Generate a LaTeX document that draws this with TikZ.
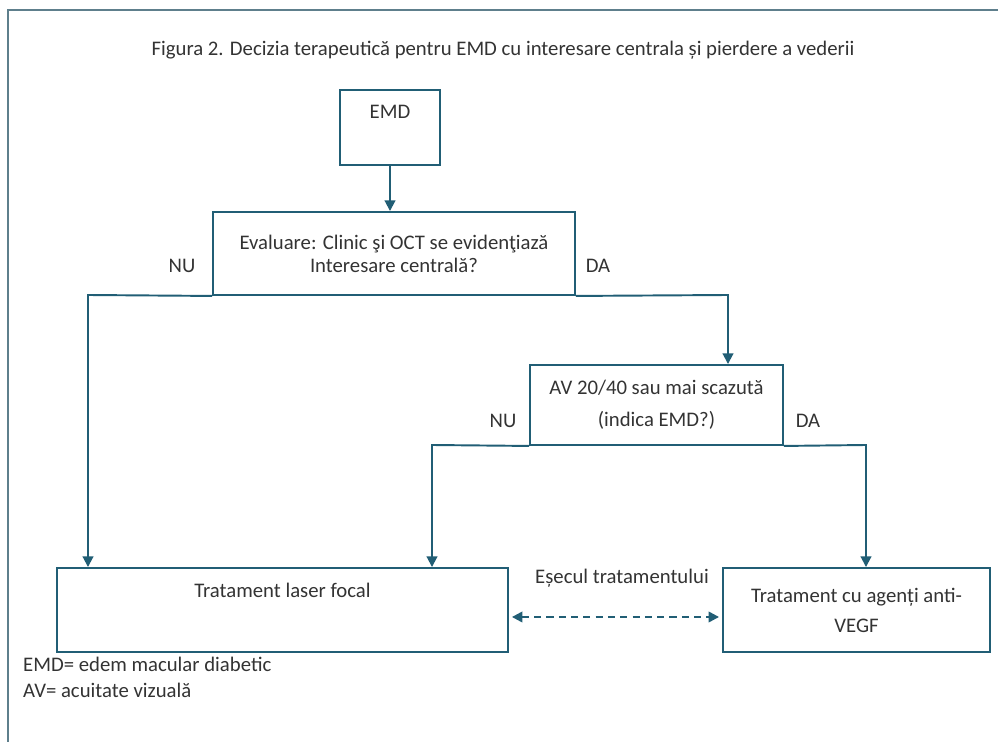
\documentclass[tikz,border=0pt]{standalone}
\usepackage{fontspec}
\setmainfont{Carlito}
\usetikzlibrary{arrows.meta}
\definecolor{boxline}{HTML}{215E75}
\definecolor{frameline}{HTML}{5E7F8C}
\definecolor{inktext}{HTML}{333333}

\begin{document}
\begin{tikzpicture}[x=0.02cm, y=-0.02cm,
	every node/.style={font=\fontsize{11.8}{14}\selectfont, text=inktext},
	box/.style={draw=boxline, line width=1.1pt, inner sep=0pt, align=center},
	arr/.style={draw=boxline, line width=1.1pt, -{Triangle[length=6pt, width=6pt]}},
	retry/.style={draw=boxline, line width=1.3pt, dashed, dash pattern=on 4pt off 3pt, {Triangle[length=6pt, width=6pt]}-{Triangle[length=6pt, width=6pt]}}]
			\useasboundingbox (0,0) rectangle (998,742);
			\draw[frameline, line width=1.3pt] (8,742) -- (8,10) -- (998,10);
			
			\node (title) at (503,50){Figura 2. Decizia terapeutică pentru EMD cu interesare centrala și pierdere a vederii};
			
			\node[box, minimum width=2cm, minimum height=1.5cm, label={[anchor=north, yshift=-0.2cm]north:EMD}] (emd) at (390,127.5){};
			\node[box, minimum width=7.24cm, minimum height=1.66cm] (eval) at (394,253.5){Evaluare: Clinic şi OCT se evidenţiază\\[-1pt]Interesare centrală?};
			\node[box, minimum width=5.06cm, minimum height=1.6cm] (av) at (656.5,405){AV 20/40 sau mai scazută\\[4pt](indica EMD?)};
			\node[box, minimum width=9.02cm, minimum height=1.68cm, label={[anchor=north, yshift=-0.2cm]north:Tratament laser focal}] (laser) at (282.5,610){};
			\node[box, minimum width=5.34cm, minimum height=1.68cm] (vegf) at (856.5,610){Tratament cu agenți anti-\\[3pt]VEGF};
			
			\node (nu1) at (182,266){NU};
			\node (da1) at (598,266){DA};
			\node (nu2) at (503,421){NU};
			\node (da2) at (808,421){DA};
			\node (fail) at (622,578){Eșecul tratamentului};
			\node[anchor=west] (leg1) at (17,664){EMD= edem macular diabetic};
			\node[anchor=west] (leg2) at (17,690){AV= acuitate vizuală};
			
			\coordinate (nuA) at (88,295);
			\coordinate (daA) at (728,295);
			\coordinate (nuB) at (432,445);
			\coordinate (daB) at (866,445);
			
			\path[arr] (emd.south) -- (emd.south |- eval.north);
			\path[arr] (eval.south west) -- (nuA) -- (nuA |- laser.north);
			\path[arr] (eval.south east) -- (daA) -- (daA |- av.north);
			\path[arr] (av.south west) -- (nuB) -- (nuB |- laser.north);
			\path[arr] (av.south east) -- (daB) -- (daB |- vegf.north);
			\path[retry] ([yshift=-0.14cm, xshift=0.06cm]laser.east) -- ([yshift=-0.14cm, xshift=-0.06cm]vegf.west);
			\end{tikzpicture}
\end{document}
